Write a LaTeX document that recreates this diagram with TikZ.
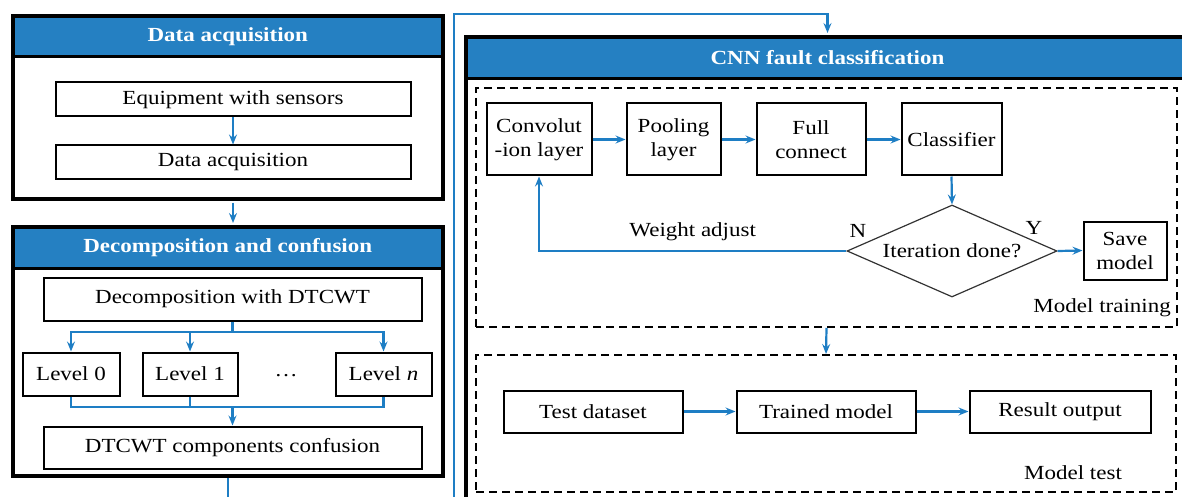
\documentclass[tikz,border=0pt]{standalone}
\usepackage{fontspec}
\setmainfont{Liberation Serif}[FakeStretch=1.15]
\usetikzlibrary{shapes.geometric,arrows.meta,calc}
\definecolor{hdrblue}{RGB}{37,128,194}
\definecolor{flowblue}{RGB}{30,126,196}
\begin{document}
\begin{tikzpicture}[x=1pt,y=-1pt,
  every node/.style={font=\fontsize{20}{24}\selectfont, inner sep=0pt},
  box/.style={draw=black, line width=2pt, fill=white, align=center},
  frame/.style={draw=black, line width=4pt},
  hdr/.style={draw=black, line width=3pt, fill=hdrblue, text=white,
    font=\bfseries\fontsize{20}{24}\selectfont},
  zone/.style={draw=black, line width=2pt, dash pattern=on 8pt off 5pt},
  arr/.style={draw=flowblue, line width=2.2pt,
    -{Stealth[length=10pt,width=8pt,inset=3.5pt]}},
  link/.style={draw=flowblue, line width=2.2pt},
  decision/.style={draw=black!80, line width=1.2pt, shape=diamond, aspect=2.28, align=center}
]
\useasboundingbox (0,0) rectangle (1182,497);

% ---------- Data acquisition ----------
\node[hdr, minimum width=429.5pt, minimum height=40.5pt] (daqhdr) at (227.75,36.25) {Data acquisition};
\node[frame, minimum width=429.5pt, minimum height=182.5pt] (daqframe) at (227.75,107.25) {};
\node[box, minimum width=355pt, minimum height=34pt] (eq) at (233,99.5) {Equipment with sensors};
\node[box, minimum width=355pt, minimum height=34pt] (acq) at (233,162.5) {Data acquisition};
\draw[arr] (eq.south) -- (acq.north);

% ---------- Decomposition and confusion ----------
\node[hdr, minimum width=429.5pt, minimum height=41.5pt] (dechdr) at (227.75,247.75) {Decomposition and confusion};
\node[frame, minimum width=429.5pt, minimum height=248.5pt] (decframe) at (227.75,351.25) {};
\draw[arr, shorten <=2pt, shorten >=2pt] (daqframe.south -| eq.south) -- (decframe.north -| eq.south);

\node[box, minimum width=378pt, minimum height=43pt] (dec) at (232.5,299) {Decomposition with DTCWT};
\node[box, minimum width=97pt, minimum height=43pt] (l0) at (71,374) {Level 0};
\node[box, minimum width=95pt, minimum height=43pt] (l1) at (190,374) {Level 1};
\node[box, minimum width=96pt, minimum height=43pt] (ln) at (383.5,374) {Level \textit{n}};
\node (dots) at (286,376) {\ldots};
\node[box, minimum width=378pt, minimum height=42pt] (conf) at (232.5,447.5) {DTCWT components confusion};

\coordinate (br) at (232.5,332);
\coordinate (mg) at (232.5,407);
\draw[link] (dec.south) -- (br);
\draw[arr] (br) -| (l0.north);
\draw[arr] (br) -| (l1.north);
\draw[arr] (br) -| (ln.north);
\draw[link] (l1.south) |- (mg);
\draw[link] (ln.south) |- (mg);
\draw[arr] (l0.south) |- (mg) -- (conf.north);

% ---------- CNN fault classification ----------
\node[hdr, minimum width=723pt, minimum height=41.5pt] (cnnhdr) at (827.5,57.75) {CNN fault classification};
\node[frame, minimum width=723pt, minimum height=493pt] (cnnframe) at (827.5,283.5) {};

\coordinate (busS) at (454,530);
\coordinate (busN) at (454,14);
\draw[arr, shorten >=2pt] (decframe.south) |- (busS) -- (busN) -| (cnnframe.north);

% model training zone
\node[zone, minimum width=701pt, minimum height=239pt] (train) at (826.5,207.5) {};
\node[box, minimum width=105pt, minimum height=72pt] (conv) at (539,139.5) {Convolut\\-ion layer};
\node[box, minimum width=94pt, minimum height=72pt] (pool) at (673.5,139.5) {Pooling\\layer};
\node[box, minimum width=109pt, minimum height=72pt] (full) at (811,139.5) {Full\\connect};
\node[box, minimum width=100pt, minimum height=72pt] (cls) at (951.5,139.5) {Classifier};
\node[decision, minimum width=210pt, minimum height=92pt] (dia) at (952,251) {Iteration done?};
\node[box, minimum width=83pt, minimum height=58pt] (save) at (1125,250.5) {Save\\model};
\node (nlab) at (858,231) {N};
\node (ylab) at (1034,228) {Y};
\node[anchor=east] (trainlab) at (1171,308) {Model training};

\draw[arr] (conv) -- (pool);
\draw[arr] (pool) -- (full);
\draw[arr] (full) -- (cls);
\draw[arr] (cls.south) -- (dia.north);
\draw[arr] (dia.east) -- (save.west);
\draw[arr] (dia.west) -| (conv.south)
  node[pos=0.25, yshift=19pt] (wlab) {Weight adjust};

% model test zone
\node[zone, minimum width=700pt, minimum height=137pt] (test) at (826,423.5) {};
\draw[arr] (train.south) -- (test.north);
\node[box, minimum width=179pt, minimum height=42pt] (tds) at (593,411.5) {Test dataset};
\node[box, minimum width=179pt, minimum height=42pt] (tm) at (826,411.5) {Trained model};
\node[box, minimum width=181pt, minimum height=42pt] (res) at (1060,411.5) {Result output};
\node (testlab) at (1073,473) {Model test};
\draw[arr] (tds) -- (tm);
\draw[arr] (tm) -- (res);
\end{tikzpicture}
\end{document}
